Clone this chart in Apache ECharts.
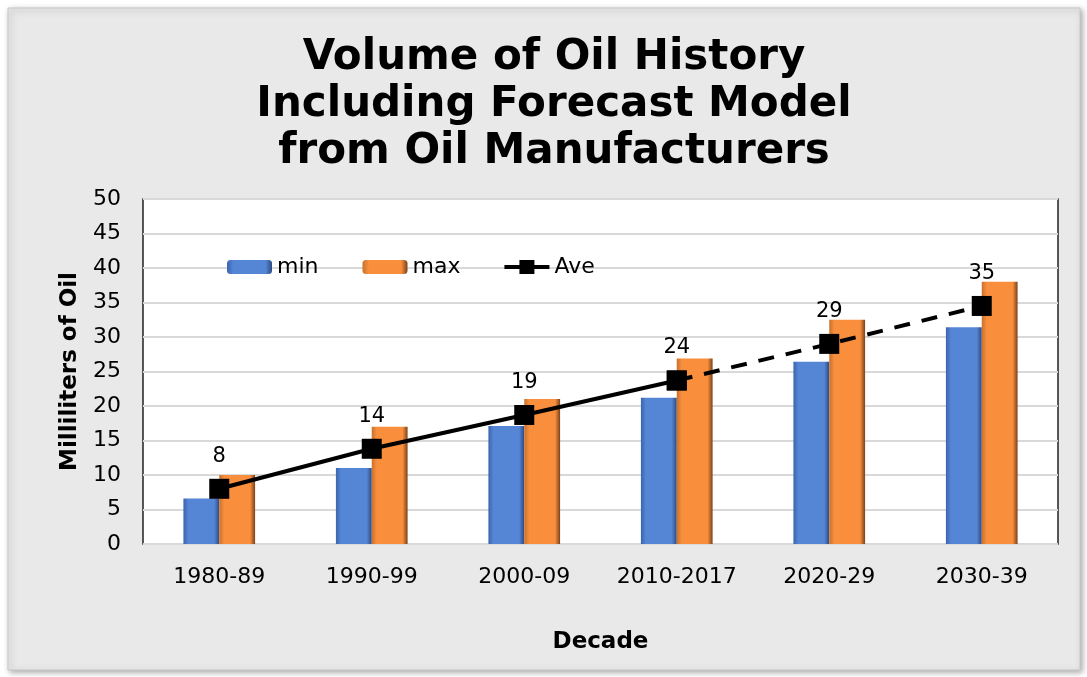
<!DOCTYPE html>
<html>
<head>
<meta charset="utf-8">
<script src="https://cdn.jsdelivr.net/npm/echarts@6/dist/echarts.min.js"></script>
<style>
  html, body { margin: 0; padding: 0; background: #fff; }
  #main { width: 1087px; height: 677px; }
</style>
</head>
<body>
<div id="main"></div>
<script>
// data
var decades = ['1980-89', '1990-99', '2000-09', '2010-2017', '2020-29', '2030-39'];
var minVals = [6.6, 11, 17.1, 21.2, 26.4, 31.4];
var maxVals = [10, 17, 21, 26.9, 32.5, 38];
var aveVals = [8, 13.8, 18.7, 23.7, 29, 34.5];
var histCount = 4; // first 4 decades are history (solid), rest forecast (dashed)

var aveSolid = aveVals.map(function (v, i) { return i < histCount ? v : '-'; });
var aveDash = aveVals.map(function (v, i) { return i >= histCount - 1 ? v : '-'; });

var FONT = 'DejaVu Sans';

function bevel(dark, main, darker) {
    return new echarts.graphic.LinearGradient(0, 0, 1, 0, [
        { offset: 0, color: dark },
        { offset: 0.14, color: main },
        { offset: 0.86, color: main },
        { offset: 1, color: darker }
    ]);
}

// legend icon for the Ave line: thick line with a square in the middle
var aveIcon = 'path://M0,5 L15,5 L15,0 L30,0 L30,5 L45,5 L45,9 L30,9 L30,14 L15,14 L15,9 L0,9 Z';

var chart = echarts.init(document.getElementById('main'));
var option = {
    textStyle: { fontFamily: FONT, color: '#000' },
    graphic: [{
        type: 'rect',
        z: -10,
        shape: { x: 8, y: 8, width: 1072, height: 662 },
        style: {
            fill: '#e9e9e9', stroke: '#c8c8c8', lineWidth: 1,
            shadowBlur: 6, shadowColor: 'rgba(0,0,0,0.35)', shadowOffsetX: 2, shadowOffsetY: 2
        }
    }],
    title: {
        text: 'Volume of Oil History\nIncluding Forecast Model\nfrom Oil Manufacturers',
        left: 549,
        textAlign: 'center',
        top: 30,
        textStyle: { fontFamily: FONT, fontSize: 42, fontWeight: 'bold', color: '#000', lineHeight: 47 }
    },
    legend: {
        left: 222,
        top: 251,
        itemWidth: 45,
        itemHeight: 14,
        itemGap: 44,
        textStyle: { fontFamily: FONT, fontSize: 22, color: '#000' },
        data: ['min', 'max', { name: 'Ave', icon: aveIcon }]
    },
    grid: {
        left: 143, right: 29, top: 199, bottom: 133,
        show: true, backgroundColor: '#fff', borderColor: '#222', borderWidth: 1.5
    },
    xAxis: {
        type: 'category',
        data: decades,
        name: 'Decade',
        nameLocation: 'middle',
        nameGap: 87,
        nameTextStyle: { fontFamily: FONT, fontSize: 23, fontWeight: 'bold', color: '#000' },
        axisLine: { show: false },
        axisTick: { show: false },
        axisLabel: { fontFamily: FONT, fontSize: 22, color: '#000', margin: 22, interval: 0 }
    },
    yAxis: {
        type: 'value',
        min: 0, max: 50, interval: 5,
        name: 'Milliliters of Oil',
        nameLocation: 'middle',
        nameGap: 61,
        nameTextStyle: { fontFamily: FONT, fontSize: 23, fontWeight: 'bold', color: '#000' },
        axisLine: { show: false },
        axisTick: { show: false },
        axisLabel: { fontFamily: FONT, fontSize: 22, color: '#000', margin: 22 },
        splitLine: { lineStyle: { color: '#d9d9d9', width: 2 } }
    },
    series: [
        {
            name: 'min', type: 'bar', data: minVals,
            barGap: 0, barCategoryGap: '53%',
            itemStyle: { color: bevel('#3b64ae', '#5585d5', '#2c4a80') }
        },
        {
            name: 'max', type: 'bar', data: maxVals,
            barGap: 0, barCategoryGap: '53%',
            itemStyle: { color: bevel('#c8712c', '#f98e3d', '#7a4216') }
        },
        {
            name: 'Ave', type: 'line', data: aveSolid, z: 5,
            symbol: 'rect', symbolSize: 20,
            lineStyle: { color: '#000', width: 4 },
            itemStyle: { color: '#000' },
            label: {
                show: true, position: 'top', distance: 12,
                fontFamily: FONT, fontSize: 21, color: '#000',
                formatter: function (p) { return Math.round(p.value); }
            }
        },
        {
            name: 'Ave', type: 'line', data: aveDash, z: 4,
            symbol: 'rect', symbolSize: 20,
            lineStyle: { color: '#000', width: 4, type: [16, 12] },
            itemStyle: { color: '#000' },
            label: {
                show: true, position: 'top', distance: 12,
                fontFamily: FONT, fontSize: 21, color: '#000',
                formatter: function (p) { return p.dataIndex >= histCount ? Math.round(p.value) : ''; }
            }
        }
    ]
};
chart.setOption(option);
</script>
</body>
</html>
